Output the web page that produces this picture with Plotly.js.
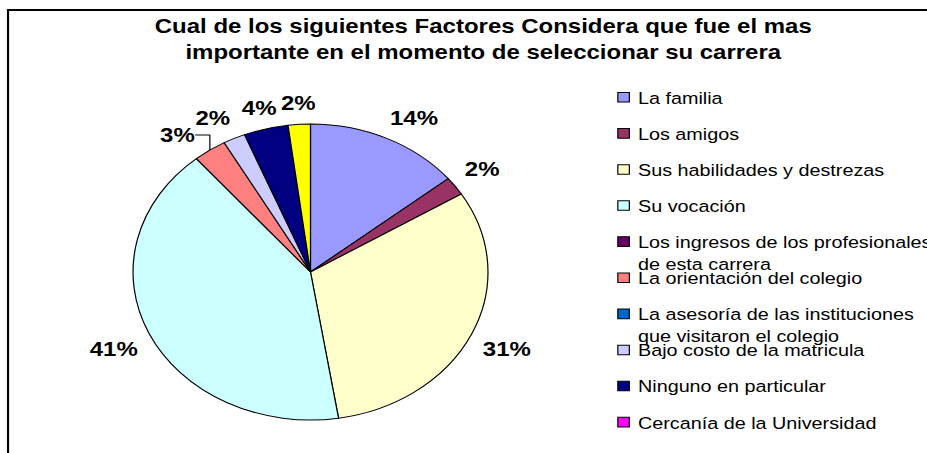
<!DOCTYPE html>
<html>
<head>
<meta charset="utf-8">
<script src="https://cdn.plot.ly/plotly-3.0.1.min.js"></script>
<style>
  html, body { margin: 0; padding: 0; overflow: hidden; background: #fff; }
  #chart { width: 773px; height: 453px; transform: scaleX(1.1992); transform-origin: 0 0; }
</style>
</head>
<body>
<div id="chart"></div>
<script>
// ---- data ----
const categories = [
  "La familia",
  "Los amigos",
  "Sus habilidades y destrezas",
  "Su vocación",
  "Los ingresos de los profesionales<br>de esta carrera",
  "La orientación del colegio",
  "La asesoría de las instituciones<br>que visitaron el colegio",
  "Bajo costo de la matricula",
  "Ninguno en particular",
  "Cercanía de la Universidad",
  "Otros"
];
const values = [14, 2, 31, 41, 0, 3, 0, 2, 4, 0, 2];
const colors = ["#9999FF", "#993366", "#FFFFCC", "#CCFFFF", "#660066", "#FF8080",
                "#0066CC", "#CCCCFF", "#000080", "#FF00FF", "#FFFF00"];
const legendItems = 10; // entries visible in the legend
const titleText = "Cual de los siguientes Factores Considera que fue el mas<br>importante en el momento de seleccionar su carrera";

// ---- layout constants ----
const SX = 1.1992;           // horizontal stretch of the original picture
const W = 773, H = 453;
const FONT = "Arial, 'Liberation Sans', sans-serif";
const pieDomain = { x: [0.1435, 0.5264], y: [0.0728, 0.7263] };
const legendX = 492 / W;
const legendTop0 = 97, legendStep = 36.1, legendOffset = 17;
const LABEL_PAD = 10;

const traces = [];
const layout = {
  width: W, height: H,
  margin: { l: 0, r: 0, t: 0, b: 0, autoexpand: false },
  paper_bgcolor: "#ffffff",
  showlegend: true,
  title: {
    text: titleText,
    x: 403 / W, xanchor: "center",
    y: 1 - 33.5 / H, yanchor: "middle",
    font: { family: FONT, size: 20, weight: "bold", color: "#000" }
  },
  shapes: [{
    type: "rect", xref: "paper", yref: "paper",
    x0: 6.7 / W, x1: 1.5, y0: -0.3, y1: 1 - 10 / H,
    line: { color: "#000", width: 1.8 }, fillcolor: "rgba(0,0,0,0)"
  }]
};

// legend keys: one tiny pie per legend entry (swatch only), hidden under the main pie
for (let i = 0; i < legendItems; i++) {
  const lid = i === 0 ? "legend" : "legend" + (i + 1);
  traces.push({
    type: "pie",
    labels: [categories[i]],
    values: [1],
    marker: { colors: [colors[i]], line: { color: "#000", width: 1 } },
    textinfo: "none", hoverinfo: "skip", sort: false,
    domain: { x: [0.334, 0.336], y: [0.398, 0.4] },
    legend: lid, showlegend: true
  });
  layout[lid] = {
    x: legendX, xanchor: "left",
    y: 1 - (legendTop0 + legendStep * i - legendOffset) / H, yanchor: "top",
    valign: "top", bgcolor: "rgba(0,0,0,0)", borderwidth: 0,
    font: { family: FONT, size: 16.5, color: "#000" }
  };
}

// main pie (non-zero slices)
const idx = values.map((v, i) => i).filter(i => values[i] > 0);
traces.push({
  type: "pie",
  labels: idx.map(i => categories[i]),
  values: idx.map(i => values[i]),
  marker: { colors: idx.map(i => colors[i]), line: { color: "#000", width: 1 } },
  sort: false, direction: "clockwise", rotation: 0,
  textposition: "outside",
  texttemplate: "%{percent:.0%}",
  textfont: { family: FONT, size: 20, weight: "bold", color: "#000" },
  domain: pieDomain,
  showlegend: false, hoverinfo: "label+percent"
});

Plotly.newPlot("chart", traces, layout, { displayModeBar: false, staticPlot: true }).then(gd => {
  // Excel-like placement of the outside percentage labels
  const NS = "http://www.w3.org/2000/svg";
  const mainIdx = traces.length - 1;
  const groups = gd.querySelectorAll(".pielayer > g.trace");
  const mainG = groups[groups.length - 1];
  const cd0 = gd.calcdata[mainIdx][0];
  const cx = cd0.cx, cy = cd0.cy, R = cd0.r;
  const placed = [];
  const overlaps = (a, b) => a.x0 < b.x1 && b.x0 < a.x1 && a.y0 < b.y1 && b.y0 < a.y1;
  const slices = Array.from(mainG.querySelectorAll("g.slice")).reverse();
  slices.forEach(sl => {
    const pt = sl.__data__;
    sl.querySelectorAll("path.textline").forEach(p => p.remove());
    const tg = sl.querySelector("g.slicetext");
    if (!tg || !pt || !pt.pxmid) return;
    const rc = tg.getBoundingClientRect();
    const curX = (rc.left + rc.width / 2) / SX, curY = rc.top + rc.height / 2;
    const w = rc.width / SX, h = rc.height;
    const len = Math.hypot(pt.pxmid[0], pt.pxmid[1]) || 1;
    const dx = pt.pxmid[0] / len, dy = pt.pxmid[1] / len;
    const side = Math.max(0, Math.min(1, (Math.abs(dx) - 0.2) * 4));
    let tx = cx + dx * (R + LABEL_PAD) + Math.sign(dx) * (w / 2) * side;
    let ty = cy + dy * (R + LABEL_PAD) + Math.sign(dy) * h / 2;
    const box = () => ({ x0: tx - w / 2, x1: tx + w / 2, y0: ty - h / 2, y1: ty + h / 2 });
    let guard = 0, moved = false;
    // push back along the circle (towards smaller angles) until clear
    while (placed.some(b => overlaps(b, box())) && guard++ < 200) {
      tx += dy; ty -= dx; moved = true;
    }
    placed.push(box());
    const prev = tg.getAttribute("transform") || "";
    tg.setAttribute("transform", `translate(${tx - curX},${ty - curY}) ${prev}`);
    if (moved) {
      const ex = cx + pt.pxmid[0], ey = cy + pt.pxmid[1];
      const lx = tx + Math.sign(ex - tx) * w / 2;
      const line = document.createElementNS(NS, "path");
      line.setAttribute("d", `M${lx},${ty}H${ex}V${ey}`);
      line.setAttribute("fill", "none");
      line.setAttribute("stroke", "#000");
      line.setAttribute("stroke-width", "1");
      line.style.vectorEffect = "non-scaling-stroke";
      sl.appendChild(line);
    }
  });
  // smaller legend swatches, as in the original
  gd.querySelectorAll("path.legendpie").forEach(p => {
    p.setAttribute("transform", "translate(28,0) scale(0.8)");
    p.style.vectorEffect = "non-scaling-stroke";
  });
});
</script>
</body>
</html>
